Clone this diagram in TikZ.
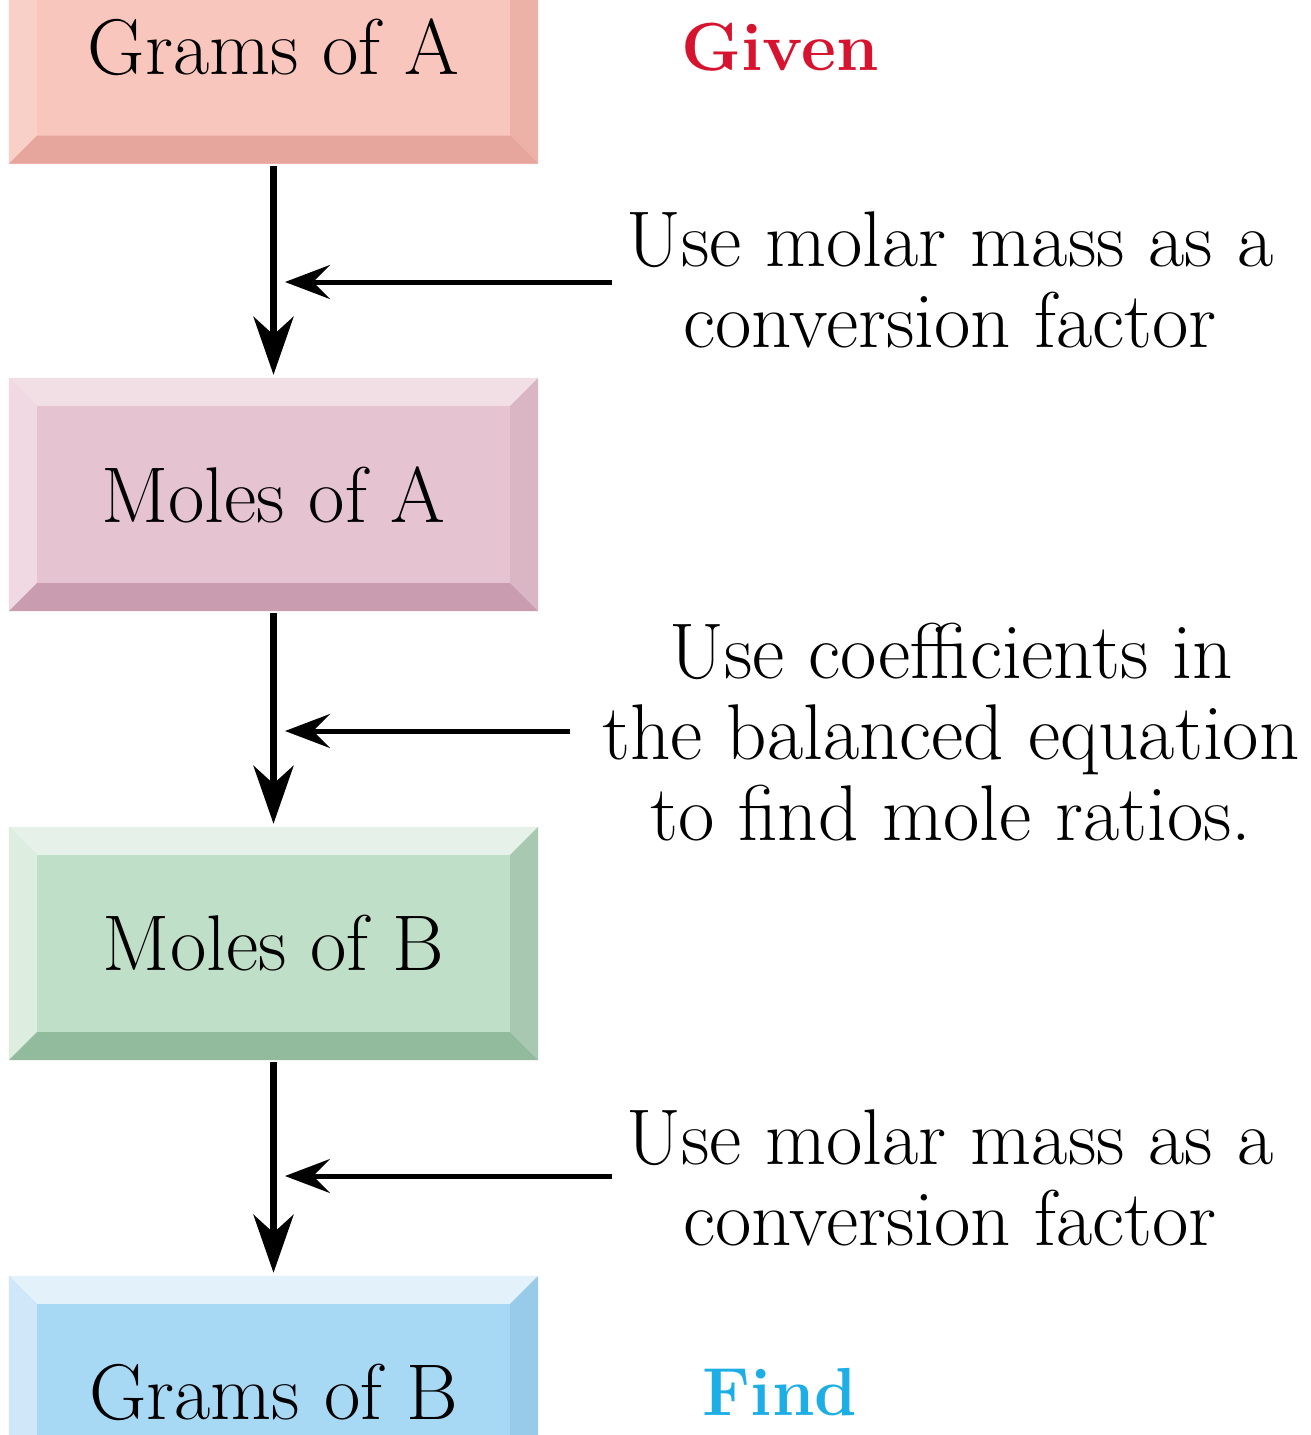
\documentclass[tikz,border=0pt]{standalone}
\usetikzlibrary{arrows.meta,backgrounds,calc}
\definecolor{gaMain}{HTML}{F8C6BC}
\definecolor{gaTop}{HTML}{FAD6CF}
\definecolor{gaLeft}{HTML}{F9D0C7}
\definecolor{gaRight}{HTML}{ECB2A8}
\definecolor{gaBot}{HTML}{E7A69D}
\definecolor{maMain}{HTML}{E6C3D1}
\definecolor{maTop}{HTML}{F2DFE6}
\definecolor{maLeft}{HTML}{F0D9E2}
\definecolor{maRight}{HTML}{DAB5C4}
\definecolor{maBot}{HTML}{C99DAF}
\definecolor{mbMain}{HTML}{C0DFC8}
\definecolor{mbTop}{HTML}{E6F2E9}
\definecolor{mbLeft}{HTML}{DDEEE1}
\definecolor{mbRight}{HTML}{A9C8B1}
\definecolor{mbBot}{HTML}{92BA9C}
\definecolor{gbMain}{HTML}{A7D8F4}
\definecolor{gbTop}{HTML}{E3F1FB}
\definecolor{gbLeft}{HTML}{CFE7F8}
\definecolor{gbRight}{HTML}{98CAE9}
\definecolor{gbBot}{HTML}{86BDE0}
\definecolor{givenRed}{HTML}{D7142F}
\definecolor{findBlue}{HTML}{1EAEE6}
\tikzset{
  box/.style={minimum width=529pt, minimum height=233pt, inner sep=0pt, font=\fontsize{79}{81}\selectfont},
  note/.style={align=center, inner sep=0pt, font=\fontsize{79}{81}\selectfont},
  tag/.style={inner sep=0pt, font=\fontsize{68}{81}\selectfont\bfseries},
  flow/.style={line width=7pt, -{Stealth[length=58pt,width=40pt,inset=18pt]}, shorten <=2pt, shorten >=3pt},
  side/.style={line width=5pt, -{Stealth[length=45pt,width=34pt,inset=17pt]}},
}
\newcommand\bevelbox[6]{%
  \fill[#2] (#1.north west) rectangle (#1.south east);
  \fill[#3] (#1.north west) -- (#1.north east) -- ($(#1.north east)+(-28,28)$) -- ($(#1.north west)+(28,28)$) -- cycle;
  \fill[#4] (#1.north west) -- ($(#1.north west)+(28,28)$) -- ($(#1.south west)+(28,-28)$) -- (#1.south west) -- cycle;
  \fill[#5] (#1.north east) -- ($(#1.north east)+(-28,28)$) -- ($(#1.south east)+(-28,-28)$) -- (#1.south east) -- cycle;
  \fill[#6] (#1.south west) -- ($(#1.south west)+(28,-28)$) -- ($(#1.south east)+(-28,-28)$) -- (#1.south east) -- cycle;
}
\begin{document}
\begin{tikzpicture}[x=1pt,y=-1pt]
\clip (0,0) rectangle (1310,1435);
\node[box] (ga) at (273.5,47) {Grams of A};
\node[box] (ma) at (273.5,494.5) {Moles of A};
\node[box] (mb) at (273.5,943.5) {Moles of B};
\node[box] (gb) at (273.5,1392.5) {Grams of B};
\begin{scope}[on background layer]
  \fill[white] (0,0) rectangle (1310,1435);
  \bevelbox{ga}{gaMain}{gaTop}{gaLeft}{gaRight}{gaBot}
  \bevelbox{ma}{maMain}{maTop}{maLeft}{maRight}{maBot}
  \bevelbox{mb}{mbMain}{mbTop}{mbLeft}{mbRight}{mbBot}
  \bevelbox{gb}{gbMain}{gbTop}{gbLeft}{gbRight}{gbBot}
\end{scope}
\node[tag, text=givenRed] (given) at (780,47) {Given};
\node[tag, text=findBlue] (find) at (780,1392) {Find};
\node[note] (n1) at (950,280) {Use molar mass as a\\conversion factor};
\node[note] (n2) at (951,732) {Use coefficients in\\the balanced equation\\to find mole ratios.};
\node[note] (n3) at (950,1178) {Use molar mass as a\\conversion factor};
\draw[flow] (ga.south) -- (ma.north);
\draw[flow] (ma.south) -- (mb.north);
\draw[flow] (mb.south) -- (gb.north);
\coordinate (s1) at (612,282);
\coordinate (t1) at (285,282);
\coordinate (s2) at (570,731);
\coordinate (t2) at (285,731);
\coordinate (s3) at (612,1176);
\coordinate (t3) at (285,1176);
\draw[side] (s1) -- (t1);
\draw[side] (s2) -- (t2);
\draw[side] (s3) -- (t3);
\end{tikzpicture}
\end{document}
